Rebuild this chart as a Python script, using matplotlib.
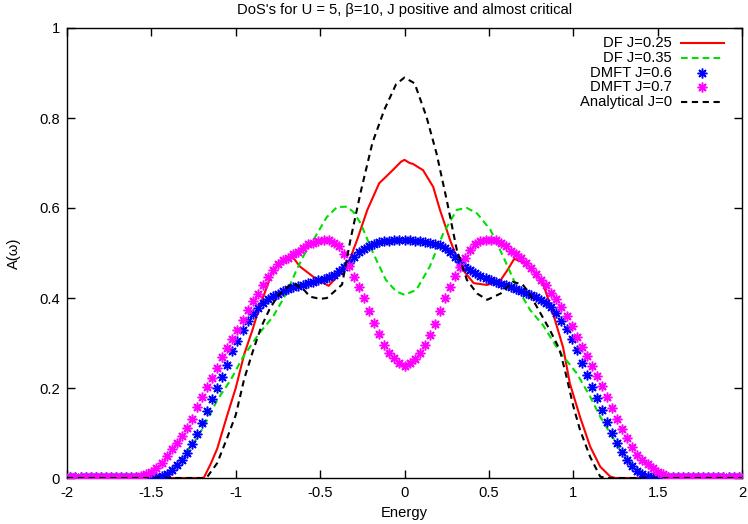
import numpy as np
import matplotlib
matplotlib.use('Agg')
import matplotlib.pyplot as plt
from matplotlib.ticker import FuncFormatter, MultipleLocator

plt.rcParams['font.family'] = ['Liberation Sans', 'DejaVu Sans']
plt.rcParams['axes.unicode_minus'] = False

# ── data ────────────────────────────────────────────────────────────────────
# DF J=0.25 (solid red)
df025_energy = [-2.0, -1.19, -1.15, -1.11, -1.05, -1.0, -0.95, -0.90, -0.86, -0.82, -0.78,
                -0.74, -0.66, -0.62, -0.54, -0.45, -0.40, -0.34, -0.28, -0.22, -0.15,
                -0.07, -0.02, 0.0, 0.03, 0.05, 0.11, 0.17, 0.21, 0.27, 0.33, 0.41, 0.49,
                0.57, 0.61, 0.65, 0.72, 0.76, 0.82, 0.88, 0.94, 0.98, 1.04, 1.10, 1.16,
                1.22, 1.25, 2.0]
df025_dos = [0.0, 0.0, 0.03, 0.065, 0.14, 0.2, 0.275, 0.33, 0.38, 0.42, 0.462,
             0.477, 0.49, 0.47, 0.447, 0.427, 0.447, 0.47, 0.53, 0.596, 0.655,
             0.684, 0.703, 0.707, 0.70, 0.698, 0.684, 0.647, 0.596, 0.529, 0.47, 0.433, 0.429,
             0.44, 0.462, 0.487, 0.477, 0.462, 0.433, 0.366, 0.29, 0.21, 0.136, 0.07, 0.025,
             0.003, 0.0, 0.0]

# DF J=0.35 (dashed green)
df035_energy = [-2.0, -1.45, -1.40, -1.35, -1.30, -1.25, -1.19, -1.11, -1.03, -0.955, -0.86,
                -0.78, -0.70, -0.64, -0.58, -0.54, -0.46, -0.40, -0.34, -0.30, -0.26,
                -0.185, -0.11, -0.05, 0.0, 0.07, 0.15, 0.23, 0.31, 0.37, 0.43, 0.51, 0.585,
                0.665, 0.745, 0.82, 0.92, 1.02, 1.10, 1.16, 1.22, 1.28, 1.36, 1.44, 1.48, 2.0]
df035_dos = [0.0, 0.0, 0.01, 0.03, 0.055, 0.077, 0.114, 0.173, 0.218, 0.27, 0.322,
             0.358, 0.41, 0.462, 0.507, 0.529, 0.58, 0.602, 0.603, 0.59, 0.566,
             0.499, 0.44, 0.415, 0.407, 0.418, 0.47, 0.544, 0.596, 0.60, 0.588, 0.551, 0.492,
             0.425, 0.373, 0.34, 0.28, 0.233, 0.181, 0.136, 0.099, 0.062, 0.025, 0.003, 0.0, 0.0]

# Analytical J=0 (dashed black)
ana_energy = [-2.0, -1.20, -1.17, -1.11, -1.05, -1.0, -0.95, -0.90, -0.85, -0.80, -0.75,
              -0.70, -0.66, -0.60, -0.56, -0.50, -0.46, -0.42, -0.37, -0.32, -0.26,
              -0.19, -0.12, -0.05, 0.0, 0.06, 0.13, 0.19, 0.25, 0.31, 0.37, 0.43, 0.49,
              0.57, 0.64, 0.70, 0.74, 0.80, 0.86, 0.92, 0.96, 1.00, 1.04, 1.10, 1.16,
              1.20, 2.0]
ana_dos = [0.0, 0.0, 0.002, 0.033, 0.09, 0.14, 0.22, 0.28, 0.335, 0.375, 0.405,
           0.422, 0.433, 0.42, 0.403, 0.398, 0.40, 0.413, 0.43, 0.53, 0.635,
           0.745, 0.818, 0.875, 0.89, 0.877, 0.803, 0.721, 0.618, 0.507, 0.44, 0.41, 0.396,
           0.41, 0.436, 0.43, 0.41, 0.37, 0.33, 0.285, 0.225, 0.16, 0.107, 0.047, 0.003,
           0.0, 0.0]

# DMFT points, energy grid -1.98 ... 1.98 in steps of 0.03
dmft_energy = np.linspace(-1.98, 1.98, 133)
dmft06_dos = [
    0.003, 0.003, 0.003, 0.003, 0.003, 0.003, 0.003, 0.003, 0.003,
    0.003, 0.003, 0.003, 0.003, 0.003, 0.003, 0.003, 0.003, 0.003,
    0.004, 0.01, 0.018, 0.028, 0.04, 0.056, 0.075, 0.097, 0.122, 0.15,
    0.175, 0.2, 0.224, 0.252, 0.282, 0.305, 0.328, 0.348, 0.364, 0.377,
    0.388, 0.397, 0.404, 0.41, 0.415, 0.42, 0.424, 0.427, 0.43, 0.433,
    0.436, 0.44, 0.443, 0.447, 0.452, 0.46, 0.468, 0.478, 0.492, 0.503,
    0.51, 0.516, 0.52, 0.524, 0.526, 0.527, 0.528, 0.529,
    0.529,
    0.53, 0.527, 0.526, 0.525, 0.523, 0.521, 0.518, 0.512, 0.503, 0.492,
    0.48, 0.47, 0.462, 0.455, 0.449, 0.444, 0.44, 0.436, 0.432, 0.428,
    0.424, 0.42, 0.416, 0.412, 0.407, 0.402, 0.396, 0.389, 0.38, 0.366,
    0.349, 0.332, 0.309, 0.285, 0.256, 0.228, 0.202, 0.177, 0.152, 0.124,
    0.1, 0.078, 0.058, 0.04, 0.026, 0.016, 0.008, 0.004,
    0.003, 0.003, 0.003, 0.003, 0.003, 0.003, 0.003, 0.003, 0.003,
    0.003, 0.003, 0.003, 0.003, 0.003, 0.003, 0.003, 0.003, 0.003,
]
dmft07_dos = [
    0.003, 0.003, 0.003, 0.003, 0.003, 0.003, 0.003,
    0.003, 0.003, 0.003, 0.003, 0.003, 0.003, 0.003,
    0.004, 0.008, 0.014, 0.022, 0.034, 0.05, 0.064, 0.077, 0.094, 0.112,
    0.132, 0.157, 0.18, 0.203, 0.222, 0.245, 0.268, 0.29, 0.31, 0.33,
    0.352, 0.374, 0.393, 0.41, 0.428, 0.447, 0.462, 0.476, 0.485, 0.49,
    0.497, 0.503, 0.512, 0.52, 0.523, 0.526, 0.528, 0.529, 0.523, 0.516,
    0.498, 0.472, 0.446, 0.424, 0.4, 0.372, 0.345, 0.32, 0.295, 0.278,
    0.266, 0.255,
    0.25,
    0.255, 0.264, 0.278, 0.296, 0.317, 0.343, 0.372, 0.399, 0.425, 0.448,
    0.47, 0.49, 0.507, 0.52, 0.526, 0.528, 0.529, 0.528, 0.522, 0.515,
    0.505, 0.497, 0.489, 0.478, 0.466, 0.454, 0.441, 0.428, 0.412, 0.397,
    0.38, 0.36, 0.338, 0.314, 0.292, 0.272, 0.25, 0.227, 0.204, 0.18,
    0.156, 0.132, 0.11, 0.09, 0.068, 0.052, 0.04, 0.032, 0.022, 0.014,
    0.008, 0.003,
    0.003, 0.003, 0.003, 0.003, 0.003, 0.003, 0.003,
    0.003, 0.003, 0.003, 0.003, 0.003, 0.003, 0.003,
]

labels = ['DF J=0.25', 'DF J=0.35', 'DMFT J=0.6', 'DMFT J=0.7', 'Analytical J=0']
colors = ['#ff0000', '#00e000', '#0000ff', '#ff00ff', '#000000']

FS = 10.6

# ── figure ─────────────────────────────────────────────────────────────────
fig = plt.figure(figsize=(7.48, 5.24), dpi=100)
ax = fig.add_axes([67 / 748, 1 - 478 / 524, 675 / 748, 450 / 524])

star = (8, 2, 0)   # gnuplot-like asterisk
mk = dict(ls='none', marker=star, ms=7, mew=1.1)
ax.plot(df025_energy, df025_dos, color=colors[0], lw=1.5, zorder=2)
ax.plot(df035_energy, df035_dos, color=colors[1], lw=1.5, dashes=(3.2, 2.0), zorder=3)
ax.plot(dmft_energy, dmft06_dos, color=colors[2], zorder=4, **mk)
ax.plot(dmft_energy, dmft07_dos, color=colors[3], zorder=5, **mk)
ax.plot(ana_energy, ana_dos, color=colors[4], lw=1.5, dashes=(3.0, 2.2), zorder=6)

ax.set_xlim(-2, 2)
ax.set_ylim(0, 1)
ax.xaxis.set_major_locator(MultipleLocator(0.5))
ax.yaxis.set_major_locator(MultipleLocator(0.2))
fmt = FuncFormatter(lambda v, p: '%g' % round(v, 3))
ax.xaxis.set_major_formatter(fmt)
ax.yaxis.set_major_formatter(fmt)
ax.tick_params(direction='in', top=True, right=True, length=6, width=1,
               labelsize=FS, colors='black')
ax.tick_params(axis='x', pad=6)
ax.tick_params(axis='y', pad=5)
for s in ax.spines.values():
    s.set_linewidth(1.0)

ax.set_title("DoS's for U = 5, \u03b2=10, J positive and almost critical",
             fontsize=FS, pad=10)
ax.set_xlabel('Energy', fontsize=FS)
ax.set_ylabel('A(\u03c9)', fontsize=FS)
ax.xaxis.set_label_coords(0.5, -0.062)
ax.yaxis.set_label_coords(-0.068, 0.5)

# ── legend, gnuplot style: right aligned text, sample on the right ─────────
rows = [0.967, 0.934, 0.901, 0.868, 0.836]
for i, (lab, col) in enumerate(zip(labels, colors)):
    y = rows[i]
    ax.text(0.896, y, lab, transform=ax.transAxes, ha='right', va='center',
            fontsize=FS)
    if i == 0:
        ax.plot([0.9096, 0.973], [y, y], transform=ax.transAxes, color=col, lw=1.5)
    elif i == 1:
        ax.plot([0.9096, 0.973], [y, y], transform=ax.transAxes, color=col, lw=1.5,
                dashes=(3.2, 2.0))
    elif i == 4:
        ax.plot([0.9096, 0.973], [y, y], transform=ax.transAxes, color=col, lw=1.5,
                dashes=(3.0, 2.2))
    else:
        ax.plot([0.9407], [y], transform=ax.transAxes, color=col, **mk)

fig.savefig('out.png', dpi=100)
